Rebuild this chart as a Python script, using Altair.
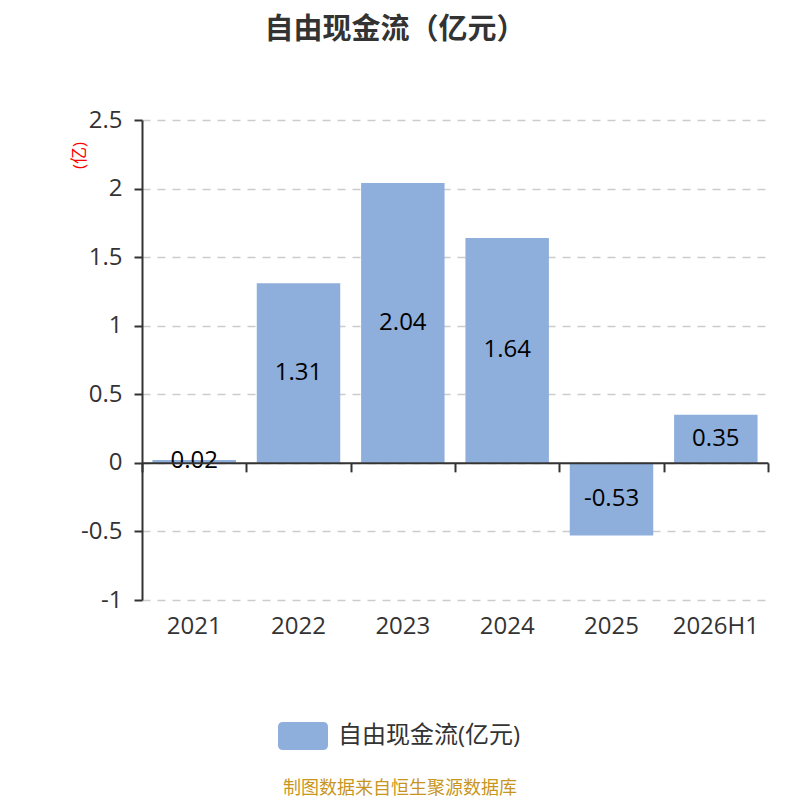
import altair as alt
import pandas as pd

categories = ["2021", "2022", "2023", "2024", "2025", "2026H1"]
values = [0.02, 1.31, 2.04, 1.64, -0.53, 0.35]
series_name = "自由现金流(亿元)"
y_ticks = [-1, -0.5, 0, 0.5, 1, 1.5, 2, 2.5]
y_domain = [-1, 2.5]
title_text = "自由现金流（亿元）"
footer_text = "制图数据来自恒生聚源数据库"
unit_text = "(亿)"

BAR_COLOR = "#8eaedb"
FONT = "Open Sans, Noto Sans CJK SC"
W, H = 626, 480

df = pd.DataFrame({"cat": categories, "value": values, "series": series_name})

x_scale = alt.Scale(domain=categories, paddingInner=0, paddingOuter=0)
y_scale = alt.Scale(domain=y_domain, nice=False, zero=False)
zero_offset = -H * (0 - y_domain[0]) / (y_domain[1] - y_domain[0])

base = alt.Chart(df)

bars = base.mark_bar(width=alt.RelativeBandSize(0.8)).encode(
    x=alt.X("cat:N", scale=x_scale, sort=categories,
            axis=alt.Axis(title=None, domain=False, ticks=False, labelAngle=0,
                          labelFontSize=24, labelColor="#333", labelFont=FONT,
                          labelPadding=14, grid=False)),
    y=alt.Y("value:Q", scale=y_scale,
            axis=alt.Axis(values=y_ticks, labelExpr="'' + datum.value",
                          labelFontSize=24, labelColor="#333", labelFont=FONT,
                          labelPadding=12, tickSize=8, tickColor="#333", tickWidth=2,
                          domainColor="#333", domainWidth=2,
                          grid=True, gridColor="#cccccc", gridDash=[8, 7], gridWidth=1.5,
                          title=unit_text, titleColor="red", titleFontSize=17,
                          titleFont=FONT, titleFontWeight="normal",
                          titleX=-54, titleY=35, titleAlign="center")),
    color=alt.Color("series:N", scale=alt.Scale(range=[BAR_COLOR]),
                    legend=alt.Legend(title=None, orient="none", legendX=136, legendY=591,
                                      symbolType="M-0.8,-0.56L0.8,-0.56Q1,-0.56 1,-0.36L1,0.36Q1,0.56 0.8,0.56L-0.8,0.56Q-1,0.56 -1,0.36L-1,-0.36Q-1,-0.56 -0.8,-0.56Z",
                                      symbolSize=2500, symbolStrokeWidth=0, symbolOpacity=1,
                                      labelFontSize=24, labelColor="#333", labelFont=FONT,
                                      labelOffset=10, labelLimit=400, padding=0)),
)

labels = base.transform_calculate(
    mid="datum.value / 2", lab="toString(datum.value)"
).mark_text(fontSize=24, font=FONT, color="black", baseline="middle").encode(
    x=alt.X("cat:N", scale=x_scale, sort=categories,
            axis=alt.Axis(title=None, orient="bottom", offset=zero_offset, labels=False,
                          ticks=True, tickBand="extent", tickSize=9, tickColor="#333",
                          tickWidth=2, domain=True, domainColor="#333", domainWidth=2,
                          grid=False, zindex=1)),
    y=alt.Y("mid:Q", scale=y_scale),
    text="lab:N",
)

footer = alt.Chart(pd.DataFrame({"t": [footer_text]})).mark_text(
    fontSize=18, font=FONT, color="#c8961e", align="center", baseline="middle"
).encode(x=alt.value(258), y=alt.value(669), text="t:N")

chart = alt.layer(bars, labels, footer).resolve_axis(x="independent").properties(
    width=W, height=H,
    autosize=alt.AutoSizeParams(type="none"),
    padding={"left": 134, "top": 112, "right": 24, "bottom": 220},
    title=alt.TitleParams(title_text, fontSize=29, fontWeight="bold", color="#333",
                          font=FONT, anchor="middle", dx=-60, offset=63),
).configure_view(stroke=None)

chart.save("out.html", embed_options={"renderer": "svg", "actions": False})
